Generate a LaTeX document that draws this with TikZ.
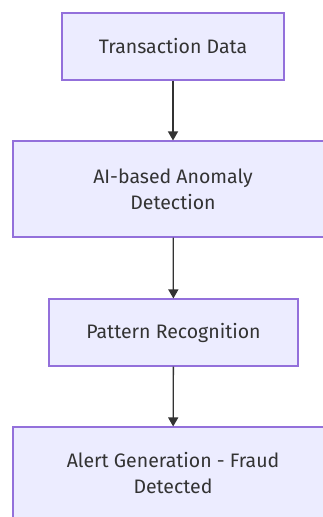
\documentclass[tikz,border=0pt]{standalone}
\usepackage{fontspec}
\setmainfont{Fira Sans}
\usetikzlibrary{arrows.meta}
\definecolor{boxfill}{HTML}{ECECFF}
\definecolor{boxline}{HTML}{9370DB}
\definecolor{ink}{HTML}{333333}
\begin{document}
\begin{tikzpicture}[x=1pt,y=-1pt,
  flowbox/.style={draw=boxline, fill=boxfill, line width=1.1pt, rectangle, inner sep=0pt,
    text=ink, align=center, font=\fontsize{19.5}{26}\selectfont},
  flowarrow/.style={draw=ink, line width=1.3pt, -{Triangle[length=9pt,width=10pt]}}]
\useasboundingbox (0,0) rectangle (323,517);
\clip (0,0) rectangle (323,517);
\fill[white] (0,0) rectangle (323,517);
\node[flowbox, minimum width=222pt, minimum height=67pt] (td) at (173,46.5) {Transaction Data};
\node[flowbox, minimum width=320pt, minimum height=96pt] (ai) at (173,189) {AI-based Anomaly\\Detection};
\node[flowbox, minimum width=249pt, minimum height=67pt] (pr) at (173.5,332.5) {Pattern Recognition};
\node[flowbox, minimum width=320pt, minimum height=92pt] (ag) at (173,473) {Alert Generation - Fraud\\Detected};
\draw[flowarrow] (td) -- (ai);
\draw[flowarrow] (ai) -- (pr);
\draw[flowarrow] (pr) -- (ag);
\end{tikzpicture}
\end{document}
